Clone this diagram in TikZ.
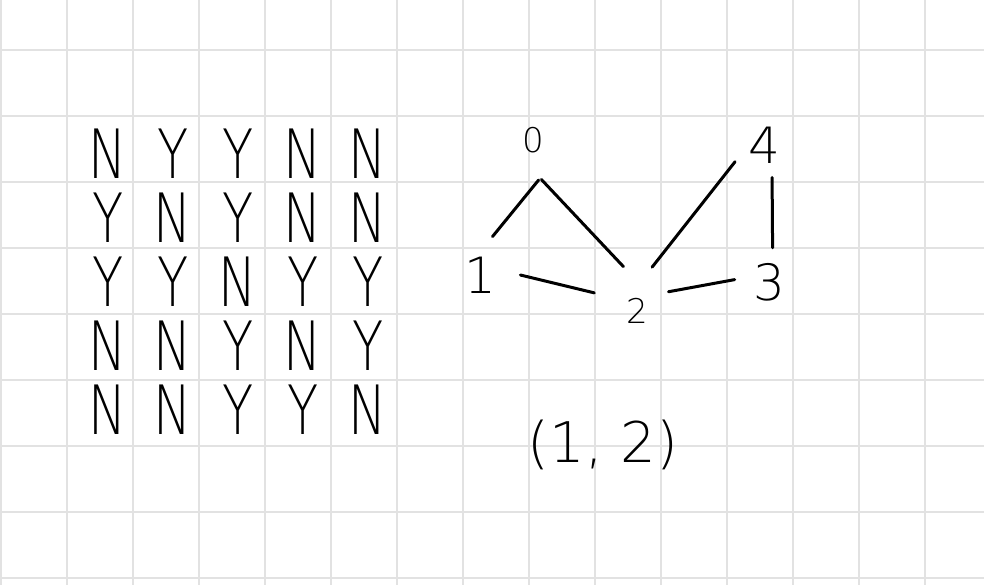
\documentclass[tikz,border=0pt]{standalone}
\usepackage{fontspec}
\usepackage{tikz}
\newfontfamily\handfont{DejaVuSans-ExtraLight.ttf}
\newfontfamily\handnarrow{DejaVuSans-ExtraLight.ttf}[FakeStretch=0.75]
\definecolor{gridgray}{RGB}{226,226,226}
\tikzset{
  gridline/.style={line width=1.3pt, gridgray},
  pen/.style={line width=1.5pt, line cap=round},
  yn/.style={minimum width=32.5pt, minimum height=32pt, inner sep=0pt,
    font={\handnarrow\fontsize{34pt}{34pt}\selectfont}},
  vtx/.style={shape=circle, inner sep=0pt,
    font={\handfont\fontsize{25pt}{25pt}\selectfont}},
  vtxsmall/.style={vtx, font={\handfont\fontsize{17pt}{17pt}\selectfont}}}

\begin{document}
\begin{tikzpicture}[x=0.5pt, y=-0.5pt]
  \useasboundingbox (0,0) rectangle (984,585);
  \fill[white] (0,0) rectangle (984,585);
  \foreach \gx in {1,67,...,925} \draw[gridline] (\gx,0) -- (\gx,585);
  \foreach \gy in {50,116,...,578} \draw[gridline] (0,\gy) -- (984,\gy);

  % adjacency table
  \matrix (tab) [column sep=0pt, row sep=0pt] at (238,282) {
  \node (a11) [yn] {N}; & \node (a12) [yn] {Y}; & \node (a13) [yn] {Y}; & \node (a14) [yn] {N}; & \node (a15) [yn] {N}; \\
  \node (a21) [yn] {Y}; & \node (a22) [yn] {N}; & \node (a23) [yn] {Y}; & \node (a24) [yn] {N}; & \node (a25) [yn] {N}; \\
  \node (a31) [yn] {Y}; & \node (a32) [yn] {Y}; & \node (a33) [yn] {N}; & \node (a34) [yn] {Y}; & \node (a35) [yn] {Y}; \\
  \node (a41) [yn] {N}; & \node (a42) [yn] {N}; & \node (a43) [yn] {Y}; & \node (a44) [yn] {N}; & \node (a45) [yn] {Y}; \\
  \node (a51) [yn] {N}; & \node (a52) [yn] {N}; & \node (a53) [yn] {Y}; & \node (a54) [yn] {Y}; & \node (a55) [yn] {N}; \\
  };

  % graph
  \node (v0) [vtxsmall, minimum size=40pt] at (533,140) {0};
  \node (v1) [vtx, minimum size=40pt] at (480,275) {1};
  \node (v2) [vtxsmall, minimum size=46pt] at (637,311) {2};
  \node (v3) [vtx, minimum size=34pt] at (769,282) {3};
  \node (v4) [vtx, minimum size=33pt] at (764,145) {4};
  \draw[pen] (v0.-82) -- (v1.72);
  \draw[pen] (v0.-78) -- (v2.107);
  \draw[pen] (v4.-150) -- (v2.71);
  \draw[pen] (v4.-76) -- (v3.84);
  \draw[pen] (v1.0) -- (v2.157);
  \draw[pen, shorten <=-5pt] (v2.27) -- (v3.176);

  \node (pair) [font={\handfont\fontsize{28pt}{28pt}\selectfont}] at (603,445) {(1, 2)};
\end{tikzpicture}
\end{document}
